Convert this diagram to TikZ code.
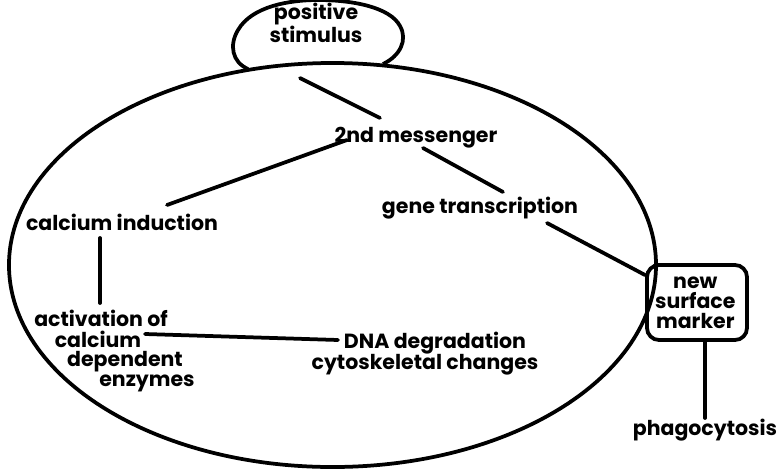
\documentclass[tikz,border=0pt]{standalone}
\usepackage{fontspec}
\setmainfont{Poppins}
\usetikzlibrary{calc}
\tikzset{
  lbl/.style={inner sep=0pt, anchor=base, font=\bfseries\fontsize{17.5}{17}\selectfont},
  blk/.style={inner sep=0pt, align=center, font=\bfseries\fontsize{17.5}{17}\selectfont},
  link/.style={line width=3.2pt, line cap=round},
  rim/.style={line width=3.2pt}
}
\begin{document}
\begin{tikzpicture}[x=0.03cm,y=-0.03cm]
\useasboundingbox (0,0) rectangle (778,470);

% the cell
\draw[rim] (332.5,265) ellipse [x radius=9.705cm, y radius=6.06cm];

% stimulus bubble sitting on the cell
\draw[rim] (248,69) .. controls (232,62) and (229,45) .. (238,30)
  .. controls (252,6) and (290,0) .. (318,0)
  .. controls (352,0) and (390,7) .. (400,26)
  .. controls (408,40) and (400,56) .. (383,64);
\node[blk, font=\bfseries\fontsize{17.5}{16}\selectfont] (stim) at (316,23) {positive\\stimulus};

% labels
\node[lbl] (msg)  at (416,142) {2nd messenger};
\node[lbl] (cal)  at (122,230) {calcium induction};
\node[lbl] (gene) at (480,213) {gene transcription};
\node[lbl] (act1) at (101,326) {activation of};
\node[lbl] (act2) at (98,347)  {calcium};
\node[lbl] (act3) at (125,366) {dependent};
\node[lbl] (act4) at (147,386) {enzymes};
\node[lbl] (dna1) at (435,348) {DNA degradation};
\node[lbl] (dna2) at (425,369) {cytoskeletal changes};
\node[draw, rim, rounded corners=0.36cm, minimum width=3cm, minimum height=2.25cm]
  (mark) at (697,302.5) {};
\node[blk, xshift=-0.05cm] (marktxt) at (mark) {new\\surface\\marker};
\node[lbl] (phago) at (705,435) {phagocytosis};

% connections
\draw[link] ($(stim.south)+(-16,35)$) -- ($(msg.base)+(-36,-24)$);
\draw[link] ($(msg.base)+(-69,-2)$) -- ($(cal.base)+(45,-25)$);
\draw[link] ($(msg.base)+(7,6)$) -- ($(gene.base)+(23,-21)$);
\draw[link] ($(gene.base)+(67,10)$) -- (mark);
\draw[link] ($(cal.base)+(-22,8)$) -- ($(act1.base)+(-1,-23)$);
\draw[link] ($(act2.base)+(47,-13)$) -- ($(dna1.base)+(-97,-8)$);
\draw[link] (mark.south -| phago.base) -- ($(phago.base)+(0,-17)$);
\end{tikzpicture}
\end{document}
